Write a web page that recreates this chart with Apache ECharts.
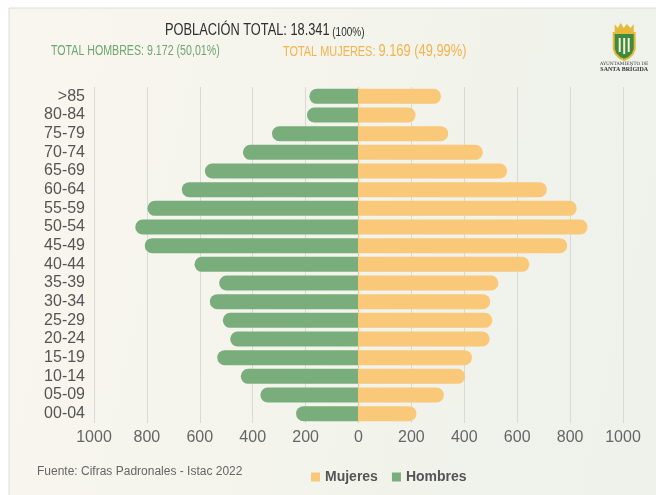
<!DOCTYPE html>
<html>
<head>
<meta charset="utf-8">
<script src="https://cdn.jsdelivr.net/npm/echarts@6/dist/echarts.min.js"></script>
<style>
  html, body { margin: 0; padding: 0; background: #fff; }
  #chart { width: 656px; height: 495px; }
</style>
</head>
<body>
<div id="chart"></div>
<script>
  // grupos de edad, de arriba abajo
  var ageGroups = ['>85', '80-84', '75-79', '70-74', '65-69', '60-64', '55-59', '50-54', '45-49',
    '40-44', '35-39', '30-34', '25-29', '20-24', '15-19', '10-14', '05-09', '00-04'];
  var hombres = [186, 195, 327, 437, 581, 668, 798, 844, 808, 620, 527, 562, 513, 485, 534, 445, 371, 236];
  var mujeres = [312, 216, 339, 470, 562, 712, 825, 866, 789, 646, 529, 498, 506, 496, 429, 403, 323, 219];

  var GREEN = '#79ad7b';
  var ORANGE = '#f9c879';
  var font = '"Liberation Sans", Arial, sans-serif';

  var chart = echarts.init(document.getElementById('chart'));
  chart.setOption({
    animation: false,
    textStyle: { fontFamily: font },
    graphic: [
      // panel de fondo
      {
        type: 'rect', z: -10, silent: true,
        shape: { x: 9, y: 8, width: 660, height: 500 },
        style: {
          fill: new echarts.graphic.LinearGradient(0, 0, 1, 0.3, [
            { offset: 0, color: '#f9f6ef' },
            { offset: 1, color: '#eef2ea' }
          ]),
          stroke: '#dcdcdc', lineWidth: 1
        }
      },
      // textos de cabecera (fuente condensada simulada con scaleX)
      {
        type: 'text', x: 165, y: 31, scaleX: 0.8,
        style: {
          text: '{a|POBLACIÓN TOTAL: 18.341} {b|(100%)}',
          verticalAlign: 'middle',
          rich: {
            a: { fontSize: 16, fill: '#2f2f2f', fontFamily: font, verticalAlign: 'bottom' },
            b: { fontSize: 12.5, fill: '#2f2f2f', fontFamily: font, verticalAlign: 'bottom' }
          }
        }
      },
      {
        type: 'text', x: 51, y: 51, scaleX: 0.76,
        style: { text: 'TOTAL HOMBRES: 9.172 (50,01%)', fontSize: 14, fill: '#6fa870', fontFamily: font, verticalAlign: 'middle' }
      },
      {
        type: 'text', x: 283, y: 51, scaleX: 0.78,
        style: {
          text: '{a|TOTAL MUJERES: }{b|9.169 (49,99%)}',
          verticalAlign: 'middle',
          rich: {
            a: { fontSize: 14, fill: '#f5b34a', fontFamily: font, verticalAlign: 'bottom' },
            b: { fontSize: 16.5, fill: '#f5b34a', fontFamily: font, verticalAlign: 'bottom' }
          }
        }
      },
      // escudo
      {
        type: 'group', left: 600, top: 23,
        children: [
          { type: 'polygon', shape: { points: [[14, 2], [17, 6], [20, 1], [23, 6], [26, 2], [30, 6], [33, 2], [33, 10], [14, 10]] }, style: { fill: '#e6b93a' } },
          { type: 'polygon', shape: { points: [[13, 11], [34, 11], [34, 27], [32, 32], [28, 36], [23.5, 38], [19, 36], [15, 32], [13, 27]] }, style: { fill: '#3f8a3d', stroke: '#e6b93a', lineWidth: 2 } },
          { type: 'rect', shape: { x: 18, y: 16, width: 2, height: 14 }, style: { fill: '#f3f0d8' } },
          { type: 'rect', shape: { x: 22.5, y: 16, width: 2, height: 16 }, style: { fill: '#f3f0d8' } },
          { type: 'rect', shape: { x: 27, y: 16, width: 2, height: 14 }, style: { fill: '#f3f0d8' } },
          { type: 'text', x: 23.5, y: 39, style: { text: 'AYUNTAMIENTO DE', fontSize: 4.5, fill: '#333', align: 'center', fontFamily: '"DejaVu Serif", serif' } },
          { type: 'text', x: 23.5, y: 44, style: { text: 'SANTA BRÍGIDA', fontSize: 6, fontWeight: 'bold', fill: '#333', align: 'center', fontFamily: '"Liberation Serif", serif' } }
        ]
      },
      {
        type: 'text', left: 37, top: 466,
        style: { text: 'Fuente: Cifras Padronales - Istac 2022', fontSize: 12, fill: '#666', fontFamily: font }
      }
    ],
    legend: {
      data: ['Mujeres', 'Hombres'],
      left: 306, top: 465,
      icon: 'rect', itemWidth: 9, itemHeight: 9, itemGap: 14,
      textStyle: { fontSize: 14, fontWeight: 'bold', color: '#555', fontFamily: font }
    },
    grid: { left: 94, right: 33, top: 87, bottom: 72, containLabel: false },
    xAxis: {
      type: 'value', min: -1000, max: 1000, interval: 200,
      axisLine: { show: false }, axisTick: { show: false },
      splitLine: { show: true, lineStyle: { color: '#d9d9d5', width: 1 } },
      axisLabel: {
        fontSize: 16, color: '#666', margin: 7, fontFamily: font,
        formatter: function (v) { return Math.abs(v); }
      }
    },
    yAxis: {
      type: 'category', data: ageGroups, inverse: true,
      axisLine: { show: false }, axisTick: { show: false },
      axisLabel: { interval: 0, fontSize: 16, color: '#555', margin: 9, fontFamily: font }
    },
    series: [
      {
        name: 'Hombres', type: 'bar', barWidth: 15, barGap: '-100%',
        data: hombres.map(function (v) { return -v; }),
        itemStyle: { color: GREEN, borderRadius: [7.5, 0, 0, 7.5] }
      },
      {
        name: 'Mujeres', type: 'bar', barWidth: 15,
        data: mujeres,
        itemStyle: { color: ORANGE, borderRadius: [0, 7.5, 7.5, 0] },
        markLine: {
          silent: true, symbol: 'none', label: { show: false },
          lineStyle: { color: ORANGE, type: 'solid', width: 1 },
          data: [{ xAxis: 0 }]
        }
      }
    ]
  });
  window.addEventListener('resize', function () { chart.resize(); });
</script>
</body>
</html>
